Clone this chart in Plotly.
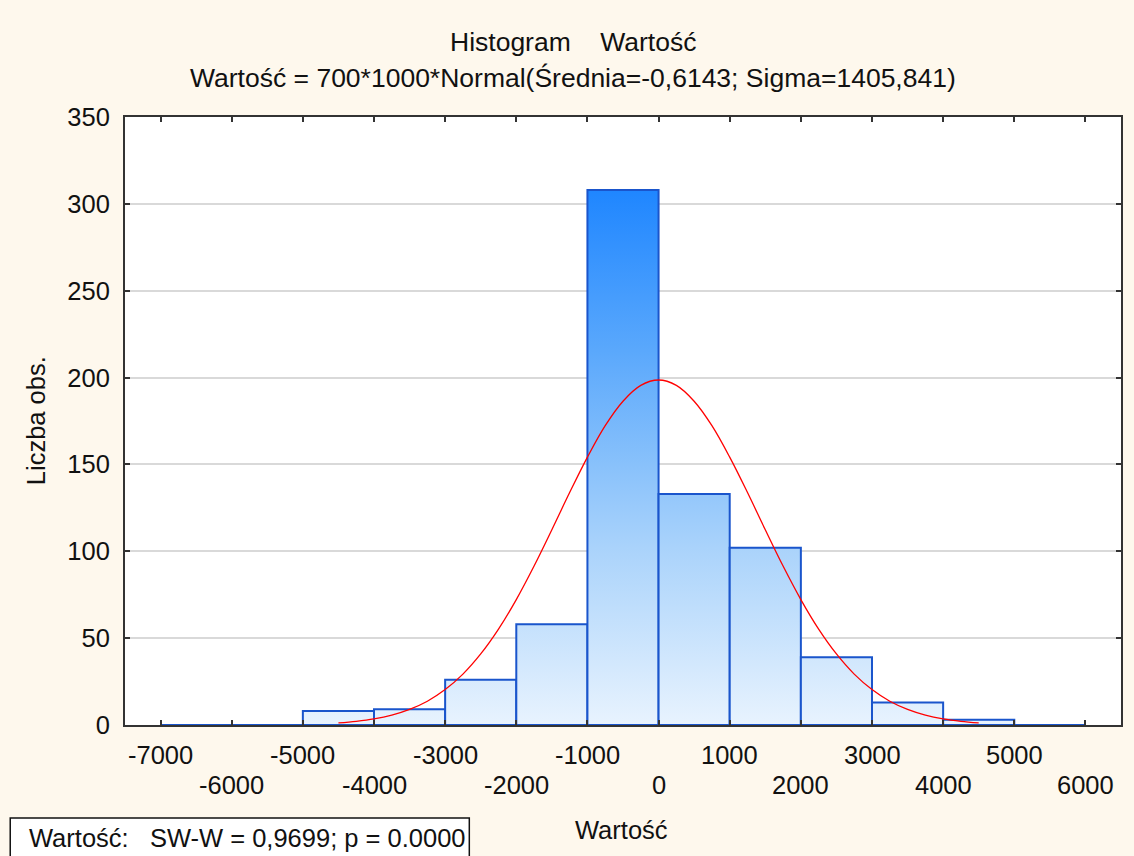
import plotly.graph_objects as go

# ---- data ----
bin_edges = [-7000, -6000, -5000, -4000, -3000, -2000, -1000, 0, 1000, 2000, 3000, 4000, 5000, 6000]
counts = [0, 0, 8, 9, 26, 58, 308, 133, 102, 39, 13, 3, 0]

curve_x = [-4500, -4250, -4000, -3750, -3500, -3250, -3000, -2750, -2500, -2250, -2000, -1750,
           -1500, -1250, -1000, -750, -500, -250, 0, 250, 500, 750, 1000, 1250, 1500, 1750,
           2000, 2250, 2500, 2750, 3000, 3250, 3500, 3750, 4000, 4250, 4500]
curve_y = [1.2, 2.1, 3.5, 5.7, 9.0, 13.7, 20.4, 29.3, 40.9, 55.2, 72.2, 91.5,
           112.4, 133.8, 154.2, 172.3, 186.4, 195.5, 198.6, 195.5, 186.4, 172.3, 154.2, 133.8, 112.4, 91.5,
           72.2, 55.2, 40.9, 29.3, 20.4, 13.7, 9.0, 5.7, 3.5, 2.1, 1.2]

x_tick_vals = [-7000, -6000, -5000, -4000, -3000, -2000, -1000, 0, 1000, 2000, 3000, 4000, 5000, 6000]
x_tick_labels = ["-7000", "-6000", "-5000", "-4000", "-3000", "-2000", "-1000", "0",
                 "1000", "2000", "3000", "4000", "5000", "6000"]
y_tick_vals = [0, 50, 100, 150, 200, 250, 300, 350]

title_line1 = "Histogram\u00a0\u00a0\u00a0\u00a0Wartość"
title_line2 = "Wartość = 700*1000*Normal(Średnia=-0,6143; Sigma=1405,841)"
x_title = "Wartość"
y_title = "Liczba obs."
stats_text = "Wartość:\u00a0\u00a0\u00a0SW-W = 0,9699; p = 0.0000"

# ---- styling ----
FONT = "Liberation Sans, Arial, sans-serif"
FS = 25.5
FS_TITLE = 26.5
TXT = "#111111"
BAR_LINE = "#1a55cc"
grad = [[0.0, "#e8f3fe"], [0.33, "#aad3fb"], [0.47, "#8cc3fb"],
        [0.7, "#5aa8fc"], [1.0, "#1f86ff"]]

fig = go.Figure()

ymax_bar = max(counts)
for i, c in enumerate(counts):
    x0, x1 = bin_edges[i], bin_edges[i + 1]
    fig.add_trace(go.Scatter(
        x=[x0, x0, x1, x1, x0], y=[0, c, c, 0, 0],
        mode="lines", fill="toself",
        fillgradient=dict(type="vertical", colorscale=grad, start=0, stop=ymax_bar),
        line=dict(color=BAR_LINE, width=2),
        hoverinfo="skip", showlegend=False,
    ))

fig.add_trace(go.Scatter(
    x=curve_x, y=curve_y, mode="lines",
    line=dict(color="#ff0000", width=1.3, shape="spline"),
    hoverinfo="skip", showlegend=False,
))

W, H = 1134, 856
L, R, T, B = 125, 11, 117, 131
pw, ph = W - L - R, H - T - B


def px(xpix):
    return (xpix - L) / pw


def py(ypix):
    return (H - B - ypix) / ph


fig.update_layout(
    width=W, height=H,
    margin=dict(l=L, r=R, t=T, b=B),
    paper_bgcolor="#fef8ed",
    plot_bgcolor="#ffffff",
    font=dict(family=FONT, size=FS, color=TXT),
    showlegend=False,
)

fig.update_xaxes(
    range=[-7500, 6500],
    tickvals=x_tick_vals, showticklabels=False,
    ticks="inside", ticklen=5, tickwidth=2, tickcolor="#333333",
    showline=True, linecolor="#333333", linewidth=2, mirror="ticks",
    showgrid=False, zeroline=False,
)
fig.update_yaxes(
    range=[0, 350],
    tickvals=y_tick_vals,
    ticks="inside", ticklen=5, tickwidth=2, tickcolor="#333333",
    ticklabelstandoff=8,
    tickfont=dict(family=FONT, size=FS, color=TXT),
    showline=True, linecolor="#333333", linewidth=2, mirror="ticks",
    showgrid=True, gridcolor="#d9d9d9", gridwidth=1.5, zeroline=False,
)

ann = []
# two-row x tick labels
for i, (v, t) in enumerate(zip(x_tick_vals, x_tick_labels)):
    row = i % 2
    ann.append(dict(x=v, xref="x", y=0, yref="paper", text=t, showarrow=False,
                    xanchor="center", yanchor="middle", yshift=-30 - 30 * row,
                    font=dict(family=FONT, size=FS, color=TXT)))
# titles
ann.append(dict(x=px(574), xref="paper", y=py(42), yref="paper", text=title_line1,
                showarrow=False, xanchor="center", yanchor="middle",
                font=dict(family=FONT, size=FS_TITLE, color=TXT)))
ann.append(dict(x=px(574), xref="paper", y=py(78), yref="paper", text=title_line2,
                showarrow=False, xanchor="center", yanchor="middle",
                font=dict(family=FONT, size=FS_TITLE, color=TXT)))
ann.append(dict(x=px(622), xref="paper", y=py(830), yref="paper", text=x_title,
                showarrow=False, xanchor="center", yanchor="middle",
                font=dict(family=FONT, size=FS, color=TXT)))
ann.append(dict(x=px(36), xref="paper", y=py(421), yref="paper", text=y_title,
                showarrow=False, xanchor="center", yanchor="middle", textangle=-90,
                font=dict(family=FONT, size=FS, color=TXT)))
ann.append(dict(x=px(27), xref="paper", y=py(838), yref="paper", text=stats_text,
                showarrow=False, xanchor="left", yanchor="middle",
                font=dict(family=FONT, size=FS, color=TXT)))
fig.update_layout(annotations=ann)

fig.add_shape(type="rect", xref="paper", yref="paper",
              x0=px(10), x1=px(470), y0=py(880), y1=py(818),
              fillcolor="#ffffff", line=dict(color="#111111", width=1.5), layer="below")

fig.write_html("out.html")
